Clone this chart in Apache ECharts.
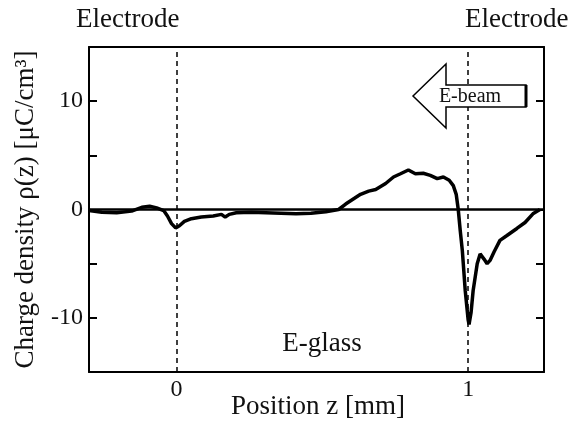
<!DOCTYPE html>
<html>
<head>
<meta charset="utf-8">
<script src="https://cdn.jsdelivr.net/npm/echarts@6/dist/echarts.min.js"></script>
<style>
  html, body { margin: 0; padding: 0; background: #fff; }
  #main { width: 573px; height: 430px; }
</style>
</head>
<body>
<div id="main"></div>
<script>
// position z [mm]
var zPos = [-0.300, -0.256, -0.205, -0.154, -0.119, -0.092, -0.068, -0.044, -0.031, -0.017,
  -0.003, 0.010, 0.027, 0.051, 0.085, 0.126, 0.154, 0.167, 0.181, 0.205,
  0.256, 0.307, 0.358, 0.410, 0.461, 0.512, 0.556, 0.580, 0.597, 0.631,
  0.659, 0.683, 0.717, 0.744, 0.768, 0.795, 0.819, 0.846, 0.870, 0.894,
  0.915, 0.935, 0.949, 0.959, 0.966, 0.973, 0.980, 0.990, 1.000, 1.003,
  1.010, 1.017, 1.031, 1.041, 1.055, 1.065, 1.075, 1.089, 1.109, 1.133,
  1.167, 1.195, 1.222, 1.246];
// charge density [uC/cm3]
var rho = [-0.1, -0.25, -0.3, -0.15, 0.2, 0.3, 0.15, -0.1, -0.6, -1.3,
  -1.7, -1.5, -1.1, -0.85, -0.7, -0.6, -0.45, -0.7, -0.45, -0.3,
  -0.25, -0.3, -0.35, -0.4, -0.35, -0.2, 0, 0.5, 0.8, 1.4,
  1.7, 1.85, 2.4, 3.0, 3.3, 3.65, 3.3, 3.35, 3.15, 2.85,
  3.0, 2.7, 2.2, 1.4, 0, -2.0, -3.8, -7.5, -10.2, -10.6,
  -9.5, -7.5, -5.0, -4.1, -4.6, -5.0, -4.7, -3.9, -2.85, -2.4,
  -1.75, -1.2, -0.4, 0];
var xTicks = [0, 1];
var yTicks = [-10, 0, 10];
var yMinorTicks = [-10, -5, 0, 5, 10];
var electrodes = [0, 1];

var serif = 'Liberation Serif';
var myChart = echarts.init(document.getElementById('main'));

var points = zPos.map(function (z, i) { return [z, rho[i]]; });

option = {
  animation: false,
  backgroundColor: '#fff',
  grid: { left: 89, right: 29, top: 47, bottom: 58, outerBoundsMode: 'none', containLabel: false },
  xAxis: [
    {
      type: 'value',
      min: -0.3,
      max: 1.26,
      axisLine: { onZero: false, lineStyle: { color: '#000', width: 2 } },
      axisTick: { show: false },
      splitLine: { show: false },
      axisLabel: {
        customValues: xTicks,
        fontFamily: serif, fontSize: 24, color: '#111', margin: 6
      }
    },
    {
      type: 'value',
      position: 'top',
      min: -0.3,
      max: 1.26,
      axisLine: { onZero: false, lineStyle: { color: '#000', width: 2 } },
      axisTick: { show: false },
      axisLabel: { show: false },
      splitLine: { show: false }
    }
  ],
  yAxis: [
    {
      type: 'value',
      min: -15,
      max: 15,
      name: 'Charge density ρ(z) [μC/cm³]',
      nameLocation: 'middle',
      nameGap: 50,
      nameTextStyle: { fontFamily: serif, fontSize: 27, color: '#111' },
      axisLine: { onZero: false, lineStyle: { color: '#000', width: 2 } },
      axisTick: { inside: true, length: 8, customValues: yMinorTicks, lineStyle: { color: '#000', width: 2 } },
      splitLine: { show: false },
      axisLabel: {
        customValues: yTicks,
        fontFamily: serif, fontSize: 24, color: '#111', margin: 6
      }
    },
    {
      type: 'value',
      position: 'right',
      min: -15,
      max: 15,
      axisLine: { onZero: false, lineStyle: { color: '#000', width: 2 } },
      axisTick: { inside: true, length: 8, customValues: yMinorTicks, lineStyle: { color: '#000', width: 2 } },
      axisLabel: { show: false },
      splitLine: { show: false }
    }
  ],
  series: [
    {
      type: 'line',
      data: points,
      showSymbol: false,
      lineStyle: { color: '#000', width: 3.5 },
      markLine: {
        silent: true,
        symbol: 'none',
        label: { show: false },
        data: [
          { yAxis: 0, lineStyle: { color: '#000', width: 2.5, type: 'solid' } },
          { xAxis: electrodes[0], lineStyle: { color: '#000', width: 1.5, type: [5, 4] } },
          { xAxis: electrodes[1], lineStyle: { color: '#000', width: 1.5, type: [5, 4] } }
        ]
      }
    }
  ],
  graphic: [
    { type: 'text', left: 76, top: 6, style: { text: 'Electrode', fontFamily: serif, fontSize: 27, fill: '#111' } },
    { type: 'text', left: 465, top: 6, style: { text: 'Electrode', fontFamily: serif, fontSize: 27, fill: '#111' } },
    { type: 'text', x: 322, y: 344, style: { text: 'E-glass', fontFamily: serif, fontSize: 27, fill: '#111', align: 'center', verticalAlign: 'middle' } },
    { type: 'text', x: 318, y: 407, style: { text: 'Position z [mm]', fontFamily: serif, fontSize: 27, fill: '#111', align: 'center', verticalAlign: 'middle' } },
    {
      type: 'polygon',
      shape: { points: [[413, 96], [446, 64], [446, 85], [526, 85], [526, 107], [446, 107], [446, 128]] },
      style: { fill: '#fff', stroke: '#000', lineWidth: 1.5 },
      z: 10
    },
    { type: 'line', shape: { x1: 526, y1: 85, x2: 526, y2: 107 }, style: { stroke: '#000', lineWidth: 3 }, z: 11 },
    { type: 'text', x: 470, y: 97, style: { text: 'E-beam', fontFamily: serif, fontSize: 20, fill: '#111', align: 'center', verticalAlign: 'middle' }, z: 12 }
  ]
};

myChart.setOption(option);
</script>
</body>
</html>
